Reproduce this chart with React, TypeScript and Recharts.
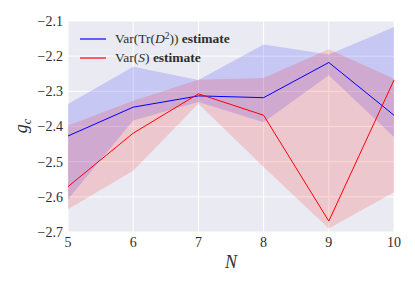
import React from "react";
import {
  ComposedChart,
  Line,
  Area,
  XAxis,
  YAxis,
  CartesianGrid,
} from "recharts";

// system size N
const nValues = [5, 6, 7, 8, 9, 10];

// Var(Tr(D^2)) estimate and its band
const trD2Est = [-2.427, -2.345, -2.313, -2.318, -2.218, -2.368];
const trD2Low = [-2.607, -2.383, -2.33, -2.388, -2.254, -2.43];
const trD2High = [-2.336, -2.23, -2.268, -2.167, -2.195, -2.117];

// Var(S) estimate and its band
const sEst = [-2.571, -2.419, -2.307, -2.368, -2.669, -2.268];
const sLow = [-2.635, -2.526, -2.335, -2.515, -2.69, -2.587];
const sHigh = [-2.397, -2.327, -2.267, -2.262, -2.18, -2.264];

const xTicks = [5, 6, 7, 8, 9, 10];
const yTicks = [-2.7, -2.6, -2.5, -2.4, -2.3, -2.2, -2.1];

const data = nValues.map((n, i) => ({
  n,
  trD2: trD2Est[i],
  trD2Band: [trD2Low[i], trD2High[i]],
  s: sEst[i],
  sBand: [sLow[i], sHigh[i]],
}));

const SERIF = "'Liberation Serif', 'DejaVu Serif', serif";
const BLUE = "#0000ff";
const RED = "#ff0000";
const TEXT = "#2e2e2e";

const fmt = (v: number) => v.toFixed(1).replace("-", "\u2212");

const legendItems = [
  {
    key: "trD2",
    color: BLUE,
    label: (
      <>
        Var(Tr(<i>D</i>
        <sup style={{ fontSize: "0.7em", lineHeight: 0, verticalAlign: "0.45em" }}>2</sup>)){" "}
        <b>estimate</b>
      </>
    ),
  },
  {
    key: "s",
    color: RED,
    label: (
      <>
        Var(<i>S</i>) <b>estimate</b>
      </>
    ),
  },
];

function YLabel() {
  return (
    <text
      x={27}
      y={126}
      transform="rotate(-90 27 126)"
      textAnchor="middle"
      fontFamily={SERIF}
      fontSize={18}
      fill={TEXT}
    >
      <tspan fontStyle="italic">g</tspan>
      <tspan fontStyle="italic" fontSize={12} dy={4}>c</tspan>
    </text>
  );
}

export default function App() {
  return (
    <div style={{ position: "absolute", left: 0, top: 0, width: 415, height: 286, background: "#fff" }}>
      <ComposedChart
        width={415}
        height={286}
        data={data}
        margin={{ top: 21, right: 21, bottom: 0, left: 0 }}
      >
        <CartesianGrid stroke="#ffffff" strokeWidth={1} fill="#eaeaf2" />
        <XAxis
          dataKey="n"
          type="number"
          domain={[5, 10]}
          ticks={xTicks}
          height={54}
          axisLine={false}
          tickLine={false}
          tickSize={0}
          tickMargin={5}
          tick={{ fill: TEXT, fontSize: 14, fontFamily: SERIF }}
          label={{
            value: "N",
            position: "insideBottom",
            offset: 18,
            style: { fontStyle: "italic", fontSize: 18, fontFamily: SERIF, fill: TEXT },
          }}
        />
        <YAxis
          type="number"
          domain={[-2.7, -2.1]}
          ticks={yTicks}
          width={68}
          axisLine={false}
          tickLine={false}
          tickSize={0}
          tickMargin={5}
          tickFormatter={fmt}
          tick={{ fill: TEXT, fontSize: 14, fontFamily: SERIF }}
          label={<YLabel />}
        />
        <Area
          dataKey="trD2Band"
          type="linear"
          stroke="none"
          fill={BLUE}
          fillOpacity={0.15}
          isAnimationActive={false}
        />
        <Area
          dataKey="sBand"
          type="linear"
          stroke="none"
          fill={RED}
          fillOpacity={0.15}
          isAnimationActive={false}
        />
        <Line
          dataKey="trD2"
          type="linear"
          stroke={BLUE}
          strokeWidth={1}
          dot={false}
          isAnimationActive={false}
        />
        <Line
          dataKey="s"
          type="linear"
          stroke={RED}
          strokeWidth={1}
          dot={false}
          isAnimationActive={false}
        />
      </ComposedChart>
      <div
        style={{
          position: "absolute",
          left: 80,
          top: 29,
          fontFamily: SERIF,
          fontSize: 13.5,
          color: TEXT,
        }}
      >
        {legendItems.map((it) => (
          <div key={it.key} style={{ display: "flex", alignItems: "center", height: 19 }}>
            <svg width={26} height={4} style={{ marginRight: 9, display: "block" }}>
              <line x1={0} y1={2} x2={26} y2={2} stroke={it.color} strokeWidth={1.2} />
            </svg>
            <span style={{ whiteSpace: "nowrap" }}>{it.label}</span>
          </div>
        ))}
      </div>
    </div>
  );
}
